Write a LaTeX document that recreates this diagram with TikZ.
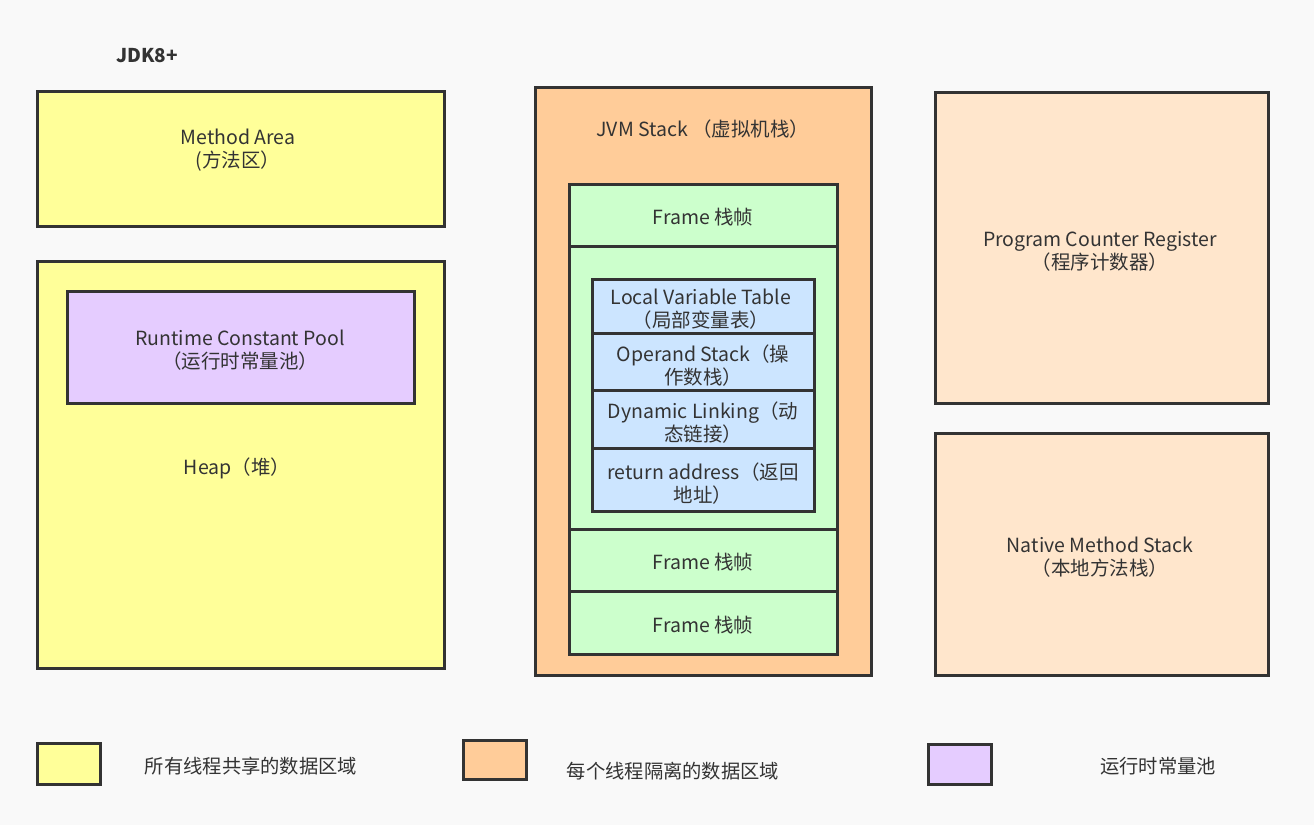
\documentclass[tikz,border=0pt]{standalone}
\usepackage{fontspec}
\setmainfont{Noto Sans CJK SC}
\begin{document}
\definecolor{ink}{HTML}{333333}
\definecolor{bg}{HTML}{F9F9F9}
\definecolor{shared}{HTML}{FFFF99}
\definecolor{private}{HTML}{FFCC99}
\definecolor{pcreg}{HTML}{FFE6CC}
\definecolor{pool}{HTML}{E5CCFF}
\definecolor{frame}{HTML}{CCFFCC}
\definecolor{slot}{HTML}{CCE5FF}
\begin{tikzpicture}[x=1pt,y=-1pt,
  box/.style={draw=ink,line width=3pt,inner sep=0pt,outer sep=0pt,align=center,text=ink,
    font=\fontsize{19.5}{23}\selectfont},
  label text/.style={text=ink,align=center,font=\fontsize{19.5}{23}\selectfont,inner sep=0pt},
  legend text/.style={text=ink,font=\fontsize{19.3}{23}\selectfont,inner sep=0pt}]
  \fill[bg] (0,0) rectangle (1314,825);
  \useasboundingbox (0,0) rectangle (1314,825);

  \node[text=ink,font=\bfseries\fontsize{19}{22}\selectfont,inner sep=0pt] (jdk) at (147,56) {JDK8+};

  % shared areas
  \node[box,fill=shared,minimum width=407pt,minimum height=135pt] (method) at (240.5,158.5) {};
  \node[label text] (methodtxt) at (238,150.5) {Method Area\\(方法区）};
  \node[box,fill=shared,minimum width=407pt,minimum height=407pt] (heap) at (240.5,464.5) {};
  \node[label text] (heaptxt) at (237,468.5) {Heap（堆）};
  \node[box,fill=pool,minimum width=347pt,minimum height=112pt] (pool) at (240.5,347) {};
  \node[label text] (pooltxt) at (240,350.5) {Runtime Constant Pool\\（运行时常量池）};

  % JVM stack with frames
  \node[box,fill=private,minimum width=336pt,minimum height=588pt] (jvm) at (703,381) {};
  \node[label text] (jvmtxt) at (703,129.5) {JVM Stack （虚拟机栈）};
  \node[box,fill=frame,minimum width=268pt,minimum height=62pt] (f1) at (703,215) {};
  \node[label text] (f1txt) at (703,217) {Frame 栈帧};
  \node[box,fill=frame,minimum width=268pt,minimum height=283pt] (fbody) at (703,387.5) {};
  \node[box,fill=slot,minimum width=222pt,minimum height=54pt] (lvt) at (703,306) {};
  \node[label text] (lvttxt) at (701,309.5) {Local Variable Table\\（局部变量表）};
  \node[box,fill=slot,minimum width=222pt,minimum height=57pt] (ops) at (703,361.5) {};
  \node[label text] (opstxt) at (703,365.5) {Operand Stack（操\\作数栈）};
  \node[box,fill=slot,minimum width=222pt,minimum height=58pt] (dyn) at (703,419) {};
  \node[label text] (dyntxt) at (703,422.5) {Dynamic Linking（动\\态链接）};
  \node[box,fill=slot,minimum width=222pt,minimum height=63pt] (ret) at (703,479.5) {};
  \node[label text] (rettxt) at (703,483.5) {return address（返回\\地址）};
  \node[box,fill=frame,minimum width=268pt,minimum height=62pt] (f2) at (703,560) {};
  \node[label text] (f2txt) at (703,562) {Frame 栈帧};
  \node[box,fill=frame,minimum width=268pt,minimum height=63pt] (f3) at (703,622.5) {};
  \node[label text] (f3txt) at (703,625) {Frame 栈帧};

  % per-thread native areas
  \node[box,fill=pcreg,minimum width=333pt,minimum height=311pt] (pc) at (1101.5,247.5) {};
  \node[label text] (pctxt) at (1100,251.5) {Program Counter Register\\（程序计数器）};
  \node[box,fill=pcreg,minimum width=333pt,minimum height=242pt] (nms) at (1101.5,554) {};
  \node[label text] (nmstxt) at (1100,557.5) {Native Method Stack\\（本地方法栈）};

  % legend
  \node[box,fill=shared,minimum width=63pt,minimum height=41pt] (lg1) at (68.5,763.5) {};
  \node[legend text] (lg1txt) at (251,766) {所有线程共享的数据区域};
  \node[box,fill=private,minimum width=63pt,minimum height=39pt] (lg2) at (494.5,759.5) {};
  \node[legend text] (lg2txt) at (673,771) {每个线程隔离的数据区域};
  \node[box,fill=pool,minimum width=63pt,minimum height=40pt] (lg3) at (959.5,764) {};
  \node[legend text] (lg3txt) at (1158,766) {运行时常量池};
\end{tikzpicture}
\end{document}
